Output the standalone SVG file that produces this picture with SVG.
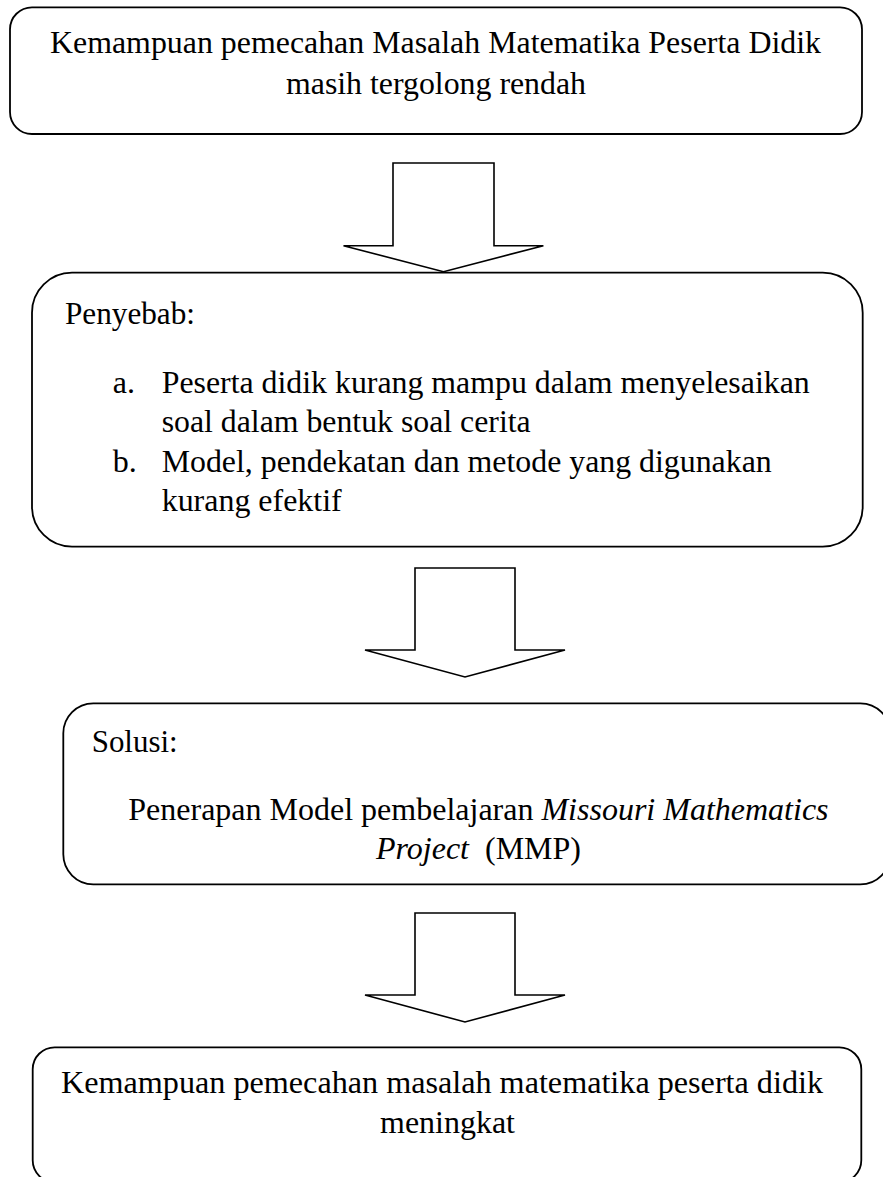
<svg xmlns="http://www.w3.org/2000/svg" width="883" height="1177" viewBox="0 0 883 1177">
  <style>
    .box { fill: #ffffff; stroke: #000000; stroke-width: 1.8; }
    .arrow { fill: #ffffff; stroke: #000000; stroke-width: 1.6; stroke-linejoin: miter; }
    .t { font-family: "Liberation Serif", "Times New Roman", serif; font-size: 32px; fill: #000000; }
    .i { font-style: italic; }
  </style>
  <rect width="883" height="1177" fill="#ffffff"/>

  <g id="connectors">
    <polygon class="arrow" points="393,163 494,163 494,245.7 543.4,245.7 443.5,271.7 343.5,245.7 393,245.7"/>
    <polygon class="arrow" points="415,568 515,568 515,650 565,650 465,677 365,650 415,650"/>
    <polygon class="arrow" points="415,913 515,913 515,995 565,995 465,1022 365,995 415,995"/>
  </g>

  <g id="node-problem">
    <rect class="box" x="10" y="7.3" width="852" height="126.7" rx="22" ry="22"/>
    <text class="t" x="50" y="53" textLength="771" lengthAdjust="spacingAndGlyphs">Kemampuan pemecahan Masalah Matematika Peserta Didik</text>
    <text class="t" x="286" y="94" textLength="300" lengthAdjust="spacingAndGlyphs">masih tergolong rendah</text>
  </g>

  <g id="node-cause">
    <rect class="box" x="32" y="272.7" width="830.7" height="274" rx="40" ry="40"/>
    <text class="t" x="65" y="324" textLength="130" lengthAdjust="spacingAndGlyphs">Penyebab:</text>
    <text class="t" x="112.7" y="393">a.</text>
    <text class="t" x="161.7" y="393" textLength="648" lengthAdjust="spacingAndGlyphs">Peserta didik kurang mampu dalam menyelesaikan</text>
    <text class="t" x="161.7" y="432" textLength="369" lengthAdjust="spacingAndGlyphs">soal dalam bentuk soal cerita</text>
    <text class="t" x="112.7" y="472">b.</text>
    <text class="t" x="161.7" y="472" textLength="610" lengthAdjust="spacingAndGlyphs">Model, pendekatan dan metode yang digunakan</text>
    <text class="t" x="161.7" y="511" textLength="180" lengthAdjust="spacingAndGlyphs">kurang efektif</text>
  </g>

  <g id="node-solution">
    <rect class="box" x="63.3" y="703.3" width="827" height="181" rx="30" ry="30"/>
    <text class="t" x="91.7" y="752" textLength="86" lengthAdjust="spacingAndGlyphs">Solusi:</text>
    <text class="t" x="128.3" y="820">Penerapan Model pembelajaran <tspan class="i">Missouri Mathematics</tspan></text>
    <text class="t" x="376" y="859" style="white-space:pre"><tspan class="i">Project</tspan>  (MMP)</text>
  </g>

  <g id="node-result">
    <rect class="box" x="32.7" y="1047.3" width="828.6" height="135" rx="22" ry="22"/>
    <text class="t" x="61" y="1093" textLength="762" lengthAdjust="spacingAndGlyphs">Kemampuan pemecahan masalah matematika peserta didik</text>
    <text class="t" x="380" y="1133" textLength="135" lengthAdjust="spacingAndGlyphs">meningkat</text>
  </g>
</svg>
